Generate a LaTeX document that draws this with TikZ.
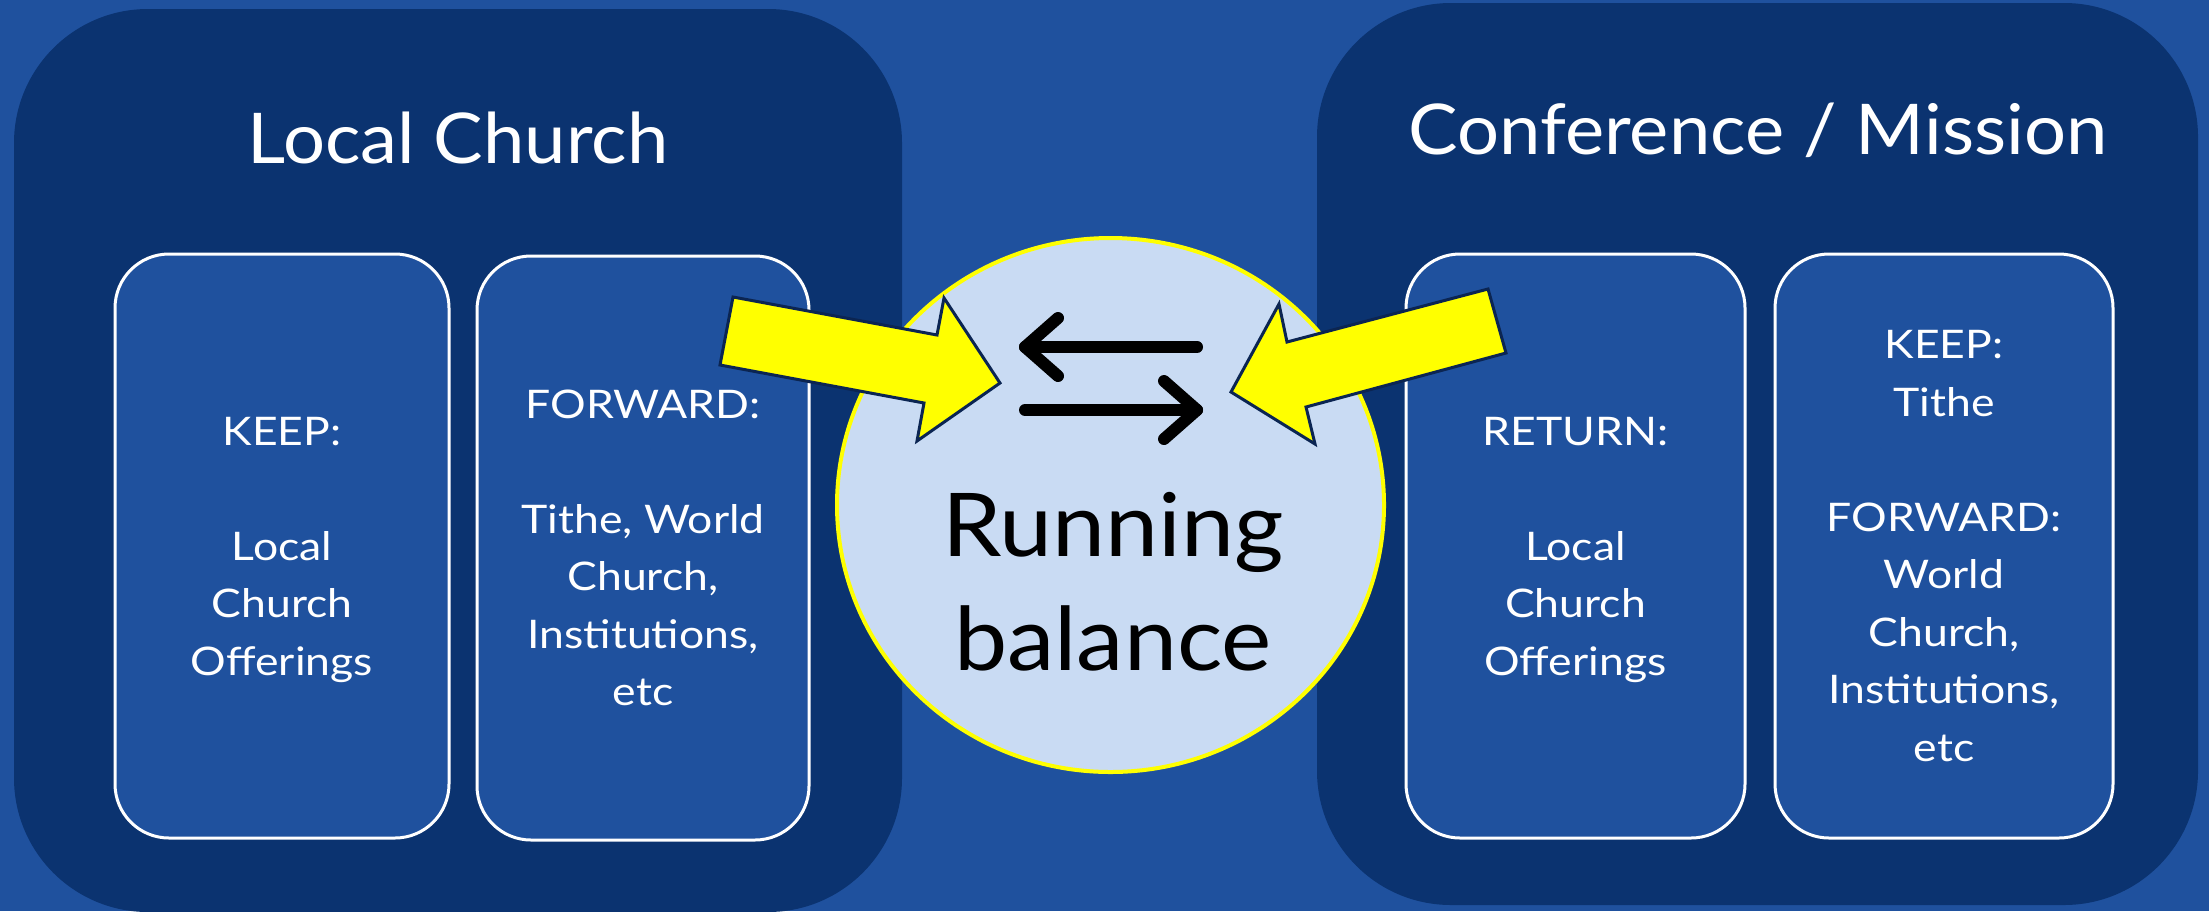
\documentclass[tikz,border=0pt]{standalone}
\usepackage{fontspec}
\setmainfont{Lato}
\newfontfamily\smallf[FakeStretch=1.13]{Lato}
\newfontfamily\titlef[FakeStretch=1.06]{Lato}
\newfontfamily\bigf[FakeStretch=1.08]{Lato}
\usetikzlibrary{shapes.geometric}
\definecolor{bgblue}{HTML}{1F519E}
\definecolor{panelblue}{HTML}{0B3370}
\definecolor{boxblue}{HTML}{1F519E}
\definecolor{circfill}{HTML}{C9DBF3}
\definecolor{arrowline}{HTML}{0B2552}
\definecolor{yel}{HTML}{FFFF00}
\newcommand\tstr{\rule{0pt}{19pt}}
\newcommand\bstr{\rule[-5pt]{0pt}{5pt}}
\begin{document}
\begin{tikzpicture}[x=0.5pt,y=-0.5pt,
  panel/.style={fill=panelblue, draw=none, rounded corners=67pt, inner sep=0pt},
  subbox/.style={fill=boxblue, draw=white, line width=1.5pt, rounded corners=27pt,
    minimum height=292pt, inner sep=0pt, align=center, text=white,
    font=\smallf\fontsize{19.7}{28.75}\selectfont},
  title/.style={text=white, font=\titlef\fontsize{35}{42}\selectfont, inner sep=0pt, anchor=base},
  balance/.style={ellipse, fill=circfill, draw=yel, line width=2pt,
    minimum width=273.5pt, minimum height=267pt, inner sep=0pt},
  bigtext/.style={font=\bigf\fontsize{44}{57}\selectfont, align=center, inner sep=0pt},
  blockarrow/.style={fill=yel, draw=arrowline, line width=1.5pt, line join=miter},
  swaparrow/.style={line width=6pt, line cap=round, line join=round, draw=black}]
\useasboundingbox (0,0) rectangle (2209,911);
\fill[bgblue] (0,0) rectangle (2209,911);

% panels
\node[panel, minimum width=444pt, minimum height=451.5pt] (lpanel) at (458,460.5) {};
\node[panel, minimum width=440.5pt, minimum height=451pt] (rpanel) at (1757.5,454) {};

% titles
\node[title] (ltitle) at (458,163) {Local Church};
\node[title] (rtitle) at (1758,154) {Conference / Mission};

% inner boxes
\node[subbox, minimum width=167pt] (box1) at (282,546)
  {\tstr KEEP:\\[28.75pt] Local\\ Church\\ Offerings\bstr};
\node[subbox, minimum width=166pt] (box2) at (643,548)
  {\tstr FORWARD:\\[28.75pt] Tithe, World\\ Church,\\ Institutions,\\ etc\bstr};
\node[subbox, minimum width=169.5pt] (box3) at (1575.5,546)
  {\tstr RETURN:\\[28.75pt] Local\\ Church\\ Offerings\bstr};
\node[subbox, minimum width=169pt] (box4) at (1944,546)
  {\tstr KEEP:\\ Tithe\\[28.75pt] FORWARD:\\ World\\ Church,\\ Institutions,\\ etc\bstr};

% running balance circle
\node[balance] (circ) at (1110.5,505) {};
\node[bigtext] (rb) at (1113,581.5) {\rule{0pt}{36.5pt}Running\\ balance\rule[-5pt]{0pt}{5pt}};

% swap arrows
\coordinate (t1) at (1197,347);
\coordinate (t2) at (1025,347);
\coordinate (b1) at (1025,410);
\coordinate (b2) at (1197,410);
\draw[swaparrow] (t1) -- (t2);
\draw[swaparrow] ([shift={(33,-29)}]t2) -- (t2) -- ([shift={(33,29)}]t2);
\draw[swaparrow] (b1) -- (b2);
\draw[swaparrow] ([shift={(-33,-29)}]b2) -- (b2) -- ([shift={(-33,29)}]b2);

% yellow block arrows
\draw[blockarrow] (733,297) -- (937,335) -- (944,298) -- (1000,383) -- (917,441) -- (924,403) -- (720,365) -- cycle;
\draw[blockarrow] (1488,289) -- (1287,342) -- (1279,304) -- (1231,392) -- (1315,444) -- (1306,407) -- (1506,353) -- cycle;
\end{tikzpicture}
\end{document}
